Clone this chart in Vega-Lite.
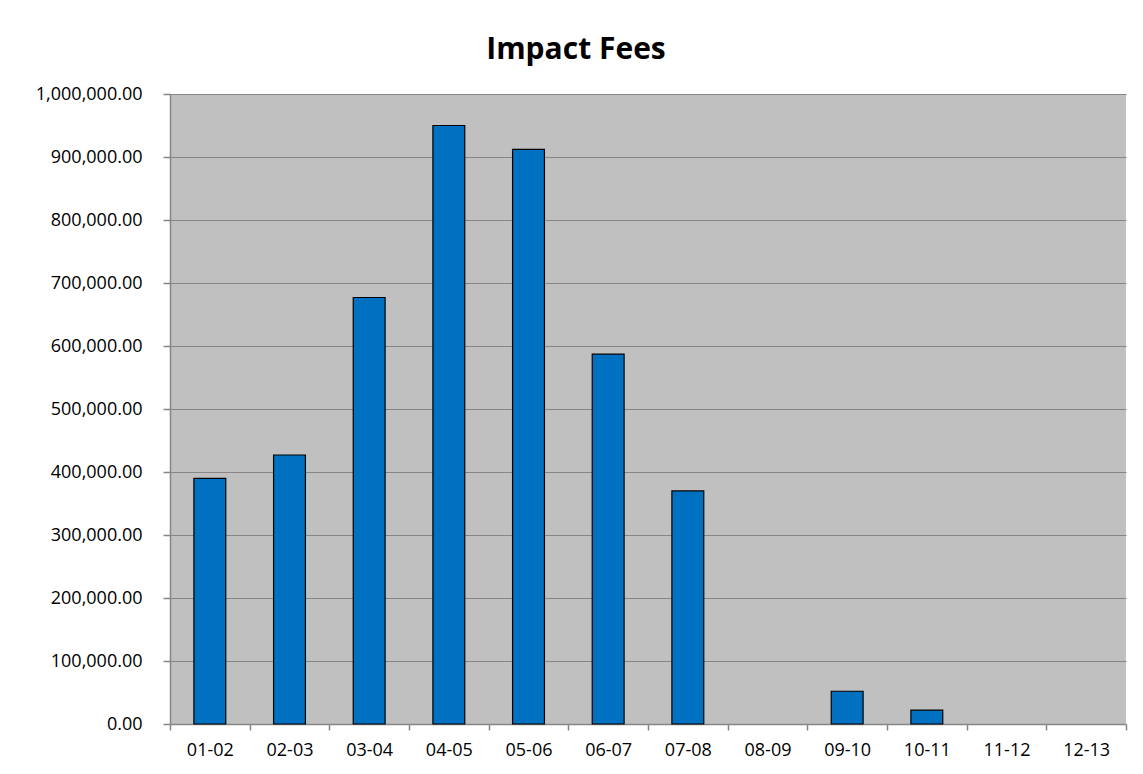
{
  "$schema": "https://vega.github.io/schema/vega-lite/v6.json",
  "autosize": {"type": "none"},
  "width": 956,
  "height": 630,
  "padding": {"left": 170, "top": 94, "right": 17, "bottom": 50},
  "background": "white",
  "title": {"text": "Impact Fees", "font": "Open Sans", "fontSize": 30, "fontWeight": "bold", "color": "#000000", "anchor": "middle", "dx": -72, "offset": 20},
  "data": {"values": [
    {"year": "01-02", "value": 390000},
    {"year": "02-03", "value": 427000},
    {"year": "03-04", "value": 677000},
    {"year": "04-05", "value": 950000},
    {"year": "05-06", "value": 912000},
    {"year": "06-07", "value": 587000},
    {"year": "07-08", "value": 370000},
    {"year": "08-09", "value": 0},
    {"year": "09-10", "value": 52000},
    {"year": "10-11", "value": 22000},
    {"year": "11-12", "value": 0},
    {"year": "12-13", "value": 0}
  ]},
  "mark": {"type": "bar", "width": {"band": 0.4}, "fill": "#0070C0", "strokeWidth": 1.2},
  "encoding": {
    "x": {
      "field": "year", "type": "nominal", "sort": null,
      "scale": {"paddingInner": 0, "paddingOuter": 0},
      "axis": {"title": null, "labelAngle": 0, "tickBand": "extent", "domainColor": "#868686", "domainWidth": 1.5, "tickColor": "#868686", "tickWidth": 1.5, "tickSize": 6, "labelFont": "Open Sans", "labelFontSize": 18, "labelColor": "#000000", "labelPadding": 11, "grid": false}
    },
    "y": {
      "field": "value", "type": "quantitative",
      "scale": {"domain": [0, 1000000], "nice": false},
      "axis": {"title": null, "values": [0, 100000, 200000, 300000, 400000, 500000, 600000, 700000, 800000, 900000, 1000000], "format": ",.2f", "grid": true, "gridColor": "#868686", "gridWidth": 1.2, "domainColor": "#868686", "domainWidth": 1.5, "tickColor": "#868686", "tickWidth": 1.5, "tickSize": 7, "labelFont": "Open Sans", "labelFontSize": 18, "labelColor": "#000000", "labelPadding": 21}
    },
    "stroke": {"condition": {"test": "datum.value > 0", "value": "#000000"}, "value": null}
  },
  "config": {"view": {"fill": "#C0C0C0", "stroke": null}}
}
